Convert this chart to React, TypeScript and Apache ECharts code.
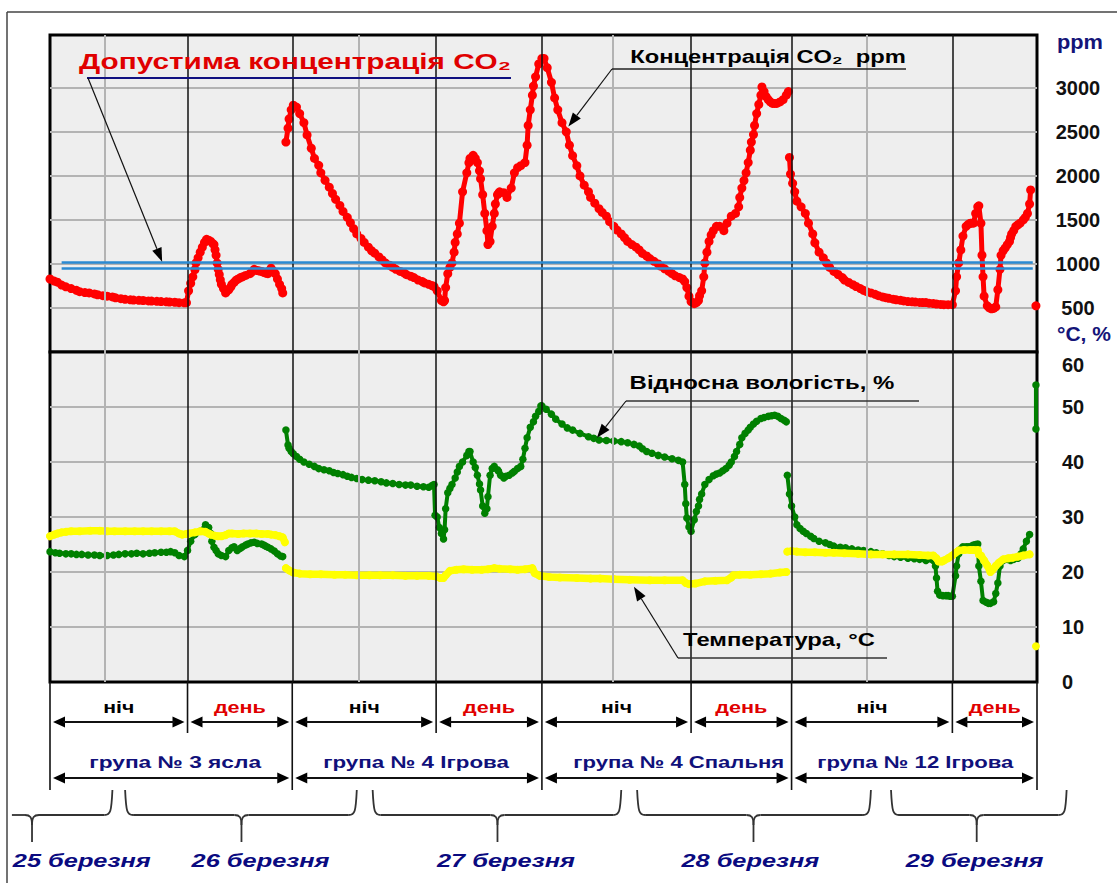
import React, { useEffect, useRef } from "react";
import * as echarts from "echarts";

const FONT = '"Liberation Sans", Arial, Helvetica, sans-serif';

// x values: hours counted from 25 March 00:00
const X_MIN = 18.8;
const X_MAX = 112.1;
const midnights = [24, 48, 72, 96];
const shiftBounds = [31.8, 41.7, 55.3, 65.3, 79.4, 88.9, 104.1];
const groupBounds = [X_MIN, 41.7, 65.3, 88.9, X_MAX];
const shiftLabels = ["ніч", "день", "ніч", "день", "ніч", "день", "ніч", "день"];
const groupLabels = ["група № 3 ясла", "група № 4 Ігрова", "група № 4 Спальня", "група № 12 Ігрова"];
const dayLabels = ["25 березня", "26 березня", "27 березня", "28 березня", "29 березня"];
// [brace start, brace end, brace point, label centre] in hours
const dayBraces = [
  [15.2, 24.7, 17.1, 21.8],
  [25.9, 47.8, 36.9, 38.7],
  [49.3, 72.8, 61.1, 61.9],
  [74.3, 96.4, 85.3, 85.0],
  [98.3, 114.9, 106.4, 106.2],
];
const co2Ticks = [500, 1000, 1500, 2000, 2500, 3000];
const co2Limit = [1024, 951];
const rhTicks = [0, 10, 20, 30, 40, 50, 60];

// CO2, ppm
const co2A = [[18.8,829],[19.2,805],[19.5,793],[19.9,760],[20.3,740],[20.8,720],[21.3,700],[21.6,685],[22.1,675],[22.5,671],[23.0,660],[23.3,650],[23.8,640],[24.2,634],[24.7,625],[25.0,615],[25.5,605],[25.9,598],[26.4,593],[26.7,590],[27.2,587],[27.6,585],[28.1,580],[28.4,578],[28.9,575],[29.3,573],[29.8,570],[30.1,568],[30.6,565],[31.0,560],[31.5,558],[31.7,560],[31.9,695],[32.1,780],[32.3,854],[32.5,935],[32.6,1012],[32.8,1070],[33.0,1134],[33.2,1190],[33.4,1244],[33.6,1280],[33.8,1270],[34.0,1256],[34.2,1230],[34.3,1220],[34.4,1160],[34.5,1098],[34.6,1010],[34.7,939],[34.8,880],[34.9,820],[35.0,768],[35.2,720],[35.4,671],[35.5,690],[35.7,707],[35.9,740],[36.0,768],[36.2,790],[36.4,817],[36.6,830],[36.8,845],[37.0,854],[37.3,870],[37.7,890],[37.9,910],[38.1,939],[38.4,925],[38.6,920],[38.8,915],[39.0,905],[39.2,895],[39.4,890],[39.6,930],[39.7,951],[39.9,920],[40.1,890],[40.3,830],[40.5,768],[40.7,720],[40.8,671]];
const co2B = [[41.1,2384],[41.3,2542],[41.4,2646],[41.6,2750],[41.8,2802],[42.1,2781],[42.4,2708],[42.8,2604],[43.1,2465],[43.5,2314],[43.8,2198],[44.2,2120],[44.4,2035],[44.8,1950],[45.2,1872],[45.5,1800],[45.8,1734],[46.2,1665],[46.5,1596],[46.9,1530],[47.2,1468],[47.5,1400],[47.8,1341],[48.2,1290],[48.5,1244],[48.9,1190],[49.2,1150],[49.5,1122],[49.9,1080],[50.2,1045],[50.5,1012],[50.9,985],[51.2,960],[51.5,939],[51.9,915],[52.3,895],[52.5,878],[52.9,860],[53.2,845],[53.6,817],[54.0,800],[54.2,785],[54.6,768],[54.9,755],[55.1,744],[55.4,695],[55.8,585],[56.0,570],[56.1,585],[56.2,732],[56.4,890],[56.6,960],[56.8,1012],[57.0,1134],[57.1,1244],[57.3,1341],[57.5,1463],[57.8,1819],[58.2,2035],[58.4,2150],[58.5,2198],[58.8,2233],[59.0,2200],[59.2,2151],[59.4,2058],[59.5,1968],[59.7,1787],[59.9,1574],[60.1,1378],[60.2,1220],[60.4,1256],[60.6,1427],[60.8,1574],[60.9,1681],[61.1,1787],[61.2,1800],[61.3,1819],[61.7,1809],[62.0,1755],[62.4,1862],[62.7,2035],[63.0,2093],[63.3,2116],[63.7,2151],[63.9,2349],[64.0,2573],[64.2,2750],[64.4,2917],[64.5,3020],[64.7,3125],[65.0,3271],[65.3,3333],[65.5,3333],[65.8,3229],[66.2,3063],[66.5,2885],[66.8,2750],[67.2,2604],[67.6,2500],[67.9,2349],[68.2,2230],[68.6,2116],[68.9,2000],[69.3,1894],[69.7,1820],[69.9,1755],[70.3,1690],[70.7,1628],[71.0,1585],[71.4,1543],[71.7,1480],[72.1,1427],[72.4,1385],[72.8,1341],[73.1,1300],[73.4,1256],[73.8,1220],[74.2,1190],[74.5,1159],[74.8,1120],[75.2,1090],[75.5,1061],[75.9,1030],[76.3,1000],[76.5,976],[76.9,945],[77.3,915],[77.6,890],[77.9,865],[78.3,845],[78.6,829],[78.8,800],[79.0,732],[79.2,634],[79.4,573],[79.7,549],[79.9,560],[80.1,585],[80.2,640],[80.4,695],[80.6,854],[80.7,1012],[80.9,1134],[81.1,1256],[81.3,1330],[81.5,1378],[81.8,1427],[82.1,1427],[82.5,1378],[82.8,1463],[83.2,1543],[83.6,1574],[83.9,1649],[84.0,1755],[84.2,1862],[84.4,1947],[84.6,2035],[84.8,2151],[85.0,2291],[85.1,2384],[85.3,2469],[85.4,2573],[85.6,2708],[85.8,2812],[86.0,2917],[86.1,3010],[86.3,2958],[86.5,2900],[86.7,2865],[86.9,2840],[87.1,2823],[87.3,2823],[87.5,2823],[87.8,2840],[88.1,2865],[88.4,2917],[88.6,2958]];
const co2C = [[88.7,2209],[88.8,2021],[89.0,1915],[89.2,1819],[89.4,1713],[89.8,1649],[90.2,1574],[90.5,1463],[90.9,1341],[91.1,1240],[91.5,1134],[91.9,1070],[92.2,1012],[92.5,960],[92.9,915],[93.3,880],[93.7,845],[93.9,817],[94.3,790],[94.7,765],[95.0,744],[95.4,720],[95.7,700],[96.0,685],[96.4,671],[96.8,655],[97.1,640],[97.5,625],[97.8,617],[98.1,610],[98.5,600],[98.8,593],[99.2,587],[99.5,580],[99.9,573],[100.3,570],[100.6,567],[101.0,563],[101.3,561],[101.6,561],[101.9,555],[102.3,550],[102.6,545],[103.0,540],[103.3,537],[103.7,537],[104.1,537],[104.4,695],[104.5,854],[104.7,1012],[104.9,1159],[105.1,1317],[105.4,1427],[105.6,1450],[105.8,1463],[105.9,1463],[106.1,1463],[106.3,1574],[106.5,1649],[106.6,1660],[106.8,1463],[106.9,1100],[107.0,854],[107.1,634],[107.4,524],[107.6,500],[107.8,490],[108.0,495],[108.2,512],[108.4,707],[108.6,939],[108.7,1098],[108.9,1150],[109.1,1183],[109.3,1220],[109.5,1256],[109.6,1300],[109.7,1341],[109.9,1380],[110.1,1427],[110.3,1445],[110.5,1463],[110.8,1500],[111.0,1530],[111.2,1574],[111.4,1681],[111.5,1840]];
const co2D = [[112.0,524]];

// relative humidity, %
const rhA = [[18.8,23.7],[19.3,23.5],[19.7,23.4],[20.3,23.3],[20.8,23.3],[21.3,23.2],[21.8,23.2],[22.4,23.1],[23.0,23.1],[23.5,23.0],[24.2,23.0],[24.8,23.1],[25.3,23.2],[25.9,23.3],[26.5,23.3],[27.0,23.4],[27.6,23.3],[28.2,23.4],[28.7,23.5],[29.3,23.6],[29.8,23.6],[30.2,23.7],[30.6,23.5],[31.0,23.0],[31.5,22.8],[31.8,23.9],[32.1,25.6],[32.5,26.8],[33.0,27.4],[33.5,28.6],[33.8,28.1],[34.0,27.0],[34.1,25.6],[34.3,24.5],[34.5,23.9],[34.7,23.3],[35.0,23.0],[35.4,22.8],[35.7,23.9],[36.0,24.4],[36.2,24.6],[36.5,23.9],[36.8,24.3],[37.0,24.6],[37.3,24.9],[37.5,25.1],[37.8,25.3],[38.1,25.4],[38.4,25.2],[38.8,25.1],[39.0,24.9],[39.2,24.7],[39.4,24.5],[39.7,24.2],[40.0,23.8],[40.3,23.3],[40.6,22.9],[40.8,22.8]];
const rhB = [[41.1,45.8],[41.3,43.1],[41.4,42.5],[41.6,41.9],[41.8,41.5],[42.1,41.0],[42.4,40.5],[42.8,40.0],[43.3,39.6],[43.8,39.2],[44.2,38.8],[44.7,38.6],[45.2,38.4],[45.6,38.1],[46.0,37.9],[46.5,37.7],[46.9,37.4],[47.3,37.2],[47.8,37.0],[48.3,36.8],[48.9,36.7],[49.5,36.6],[50.1,36.4],[50.6,36.2],[51.2,36.1],[51.8,35.9],[52.4,35.8],[52.9,35.8],[53.5,35.6],[54.1,35.5],[54.6,35.4],[54.9,35.7],[55.1,35.9],[55.2,30.3],[55.4,30.0],[55.6,28.1],[55.8,27.0],[56.0,26.0],[56.1,27.7],[56.2,31.5],[56.4,34.4],[56.6,35.2],[56.8,35.9],[57.1,37.1],[57.3,38.2],[57.5,39.2],[57.8,40.0],[58.2,41.2],[58.4,41.9],[58.5,41.9],[58.8,40.0],[59.0,39.0],[59.2,37.6],[59.4,36.0],[59.5,34.9],[59.7,32.0],[59.9,30.7],[60.1,31.5],[60.2,33.7],[60.4,37.6],[60.6,38.8],[60.8,39.2],[61.1,38.6],[61.2,38.3],[61.4,37.6],[61.7,37.1],[61.9,37.4],[62.2,37.6],[62.5,38.0],[62.7,38.3],[63.0,38.8],[63.3,39.2],[63.5,40.5],[63.7,42.5],[63.9,44.4],[64.2,46.3],[64.5,47.3],[64.7,48.3],[65.0,49.2],[65.2,50.2],[65.3,50.2],[65.7,49.6],[66.2,48.7],[66.6,47.8],[67.2,46.9],[67.7,46.2],[68.2,45.8],[68.9,45.2],[69.7,44.6],[70.2,44.3],[70.7,44.0],[71.4,43.9],[72.1,43.8],[72.8,43.7],[73.4,43.5],[74.0,43.2],[74.5,42.9],[74.8,42.4],[75.2,41.9],[75.7,41.6],[76.3,41.2],[76.9,40.9],[77.6,40.6],[78.2,40.3],[78.6,40.0],[78.8,35.9],[78.9,32.4],[79.0,29.8],[79.2,28.2],[79.4,27.4],[79.7,29.5],[79.9,31.0],[80.1,32.0],[80.2,33.2],[80.4,34.2],[80.7,35.9],[81.1,36.8],[81.5,37.5],[81.8,37.8],[82.1,38.0],[82.4,38.4],[82.7,38.8],[83.0,39.4],[83.2,40.0],[83.5,41.0],[83.7,41.9],[84.0,43.2],[84.2,44.4],[84.5,45.2],[84.8,45.8],[85.0,46.3],[85.3,46.9],[85.6,47.4],[86.0,47.9],[86.3,48.1],[86.7,48.3],[87.0,48.4],[87.3,48.5],[87.6,48.3],[87.9,47.9],[88.2,47.6],[88.4,47.3]];
const rhC = [[88.5,37.6],[88.7,34.2],[88.9,32.0],[89.2,30.0],[89.4,28.6],[89.7,27.9],[90.0,27.4],[90.3,27.0],[90.7,26.5],[91.0,26.1],[91.5,25.6],[92.1,25.3],[92.5,25.0],[92.9,24.7],[93.5,24.5],[94.0,24.4],[94.6,24.2],[95.2,24.0],[95.7,23.9],[96.4,23.7],[96.9,23.5],[97.5,23.3],[98.1,23.0],[98.6,22.8],[99.2,22.7],[99.9,22.5],[100.5,22.4],[101.0,22.3],[101.6,22.1],[102.3,22.1],[102.5,21.1],[102.6,18.9],[102.7,16.5],[102.9,15.8],[103.2,15.7],[103.5,15.7],[103.7,15.7],[103.9,15.6],[104.1,15.6],[104.4,19.3],[104.5,21.1],[104.7,23.3],[104.9,24.2],[105.1,24.6],[105.4,24.6],[105.6,24.6],[105.9,24.7],[106.1,24.9],[106.3,25.0],[106.5,25.1],[106.6,21.1],[106.8,18.3],[107.0,14.8],[107.3,14.5],[107.5,14.3],[107.7,14.3],[108.0,14.6],[108.2,16.1],[108.4,18.0],[108.6,21.1],[108.9,22.1],[109.3,22.3],[109.6,22.1],[109.9,22.3],[110.3,22.5],[110.6,23.3],[110.8,24.2],[111.1,25.6],[111.4,26.8]];
const rhD = [[112.0,54.0],[112.0,46.0]];

// temperature, °C
const tA = [[18.8,26.5],[19.2,26.8],[19.5,27.0],[19.9,27.2],[20.3,27.3],[20.8,27.4],[21.6,27.4],[22.6,27.5],[23.5,27.5],[24.2,27.4],[24.9,27.4],[25.9,27.4],[26.8,27.4],[27.6,27.4],[28.4,27.4],[29.3,27.4],[30.1,27.4],[30.6,27.4],[31.0,27.0],[31.3,26.8],[31.7,26.9],[31.9,27.0],[32.5,27.2],[33.0,27.4],[33.5,27.3],[33.8,27.0],[34.0,26.8],[34.4,26.6],[34.7,26.5],[35.0,26.5],[35.4,26.7],[35.7,27.0],[36.0,27.0],[36.6,26.9],[37.1,27.0],[37.7,27.0],[38.3,27.0],[38.8,26.9],[39.4,26.9],[39.7,26.8],[40.1,26.7],[40.5,26.5],[40.8,26.3],[41.0,25.4]];
const tB = [[41.1,20.7],[41.4,20.3],[41.8,19.9],[42.4,19.7],[43.4,19.6],[44.4,19.6],[45.7,19.5],[46.7,19.5],[47.8,19.4],[49.0,19.4],[50.0,19.4],[51.2,19.4],[52.4,19.3],[53.5,19.3],[54.6,19.3],[55.3,19.2],[55.7,18.9],[56.0,18.9],[56.2,19.4],[56.6,20.2],[57.2,20.4],[57.9,20.5],[58.7,20.4],[59.6,20.4],[60.2,20.5],[60.8,20.7],[61.3,20.6],[62.3,20.5],[63.0,20.4],[63.7,20.5],[64.4,20.7],[64.6,19.8],[65.1,19.3],[66.0,19.1],[67.0,19.0],[68.6,18.9],[69.9,18.8],[70.8,18.8],[72.1,18.7],[73.6,18.6],[75.5,18.5],[76.9,18.5],[78.6,18.5],[78.9,18.0],[79.2,17.8],[79.8,17.9],[80.7,18.3],[81.7,18.4],[82.8,18.5],[83.2,19.0],[83.4,19.4],[84.0,19.5],[85.0,19.5],[86.0,19.6],[86.9,19.7],[87.8,19.9],[88.4,20.0]];
const tC = [[88.5,23.7],[88.9,23.8],[89.4,23.7],[90.2,23.6],[91.1,23.6],[92.1,23.5],[92.9,23.5],[93.9,23.4],[95.2,23.3],[96.4,23.2],[97.5,23.2],[98.6,23.2],[99.9,23.2],[101.0,23.1],[101.8,23.0],[102.3,23.0],[102.6,22.5],[102.8,21.9],[103.1,21.9],[103.3,22.1],[103.7,22.5],[104.1,23.0],[104.4,23.5],[104.7,23.9],[105.2,24.0],[105.8,24.0],[106.1,24.0],[106.5,24.0],[106.6,23.2],[106.8,23.0],[107.1,22.1],[107.4,21.2],[107.7,20.0],[107.9,20.4],[108.2,21.1],[108.5,21.7],[108.9,22.3],[109.4,22.5],[109.8,22.6],[110.3,22.8],[110.8,23.0],[111.4,23.2]];
const tD = [[112.0,6.5]];

// annotation arrow tips, in data units [hours, value]
const limitTip = [29.4, 1024];
const co2Tip = [67.8, 2560];
const rhTip = [70.5, 44.4];
const tTip = [74.0, 17.3];

const measureCtx = typeof document !== "undefined" ? document.createElement("canvas").getContext("2d") : null;
function textWidth(text: string, size: number, weight: string, style: string) {
  if (!measureCtx) return text.length * size * 0.6;
  measureCtx.font = `${style} ${weight} ${size}px ${FONT}`;
  return measureCtx.measureText(text).width;
}

function fitText(text: string, cx: number, cy: number, width: number, size: number, color: string, style = "normal", weight = "bold") {
  const w = textWidth(text, size, weight, style);
  return {
    type: "text", x: cx, y: cy, scaleX: width / w, z: 100, silent: true,
    style: {
      text, x: 0, y: 0, fill: color, fontSize: size, fontWeight: weight, fontStyle: style, fontFamily: FONT,
      align: "center", verticalAlign: "middle", textAlign: "center", textVerticalAlign: "middle",
    },
  };
}

function lineSeries(data: number[][], axis: number, color: string, size: number, width: number, z: number) {
  return {
    type: "line", xAxisIndex: axis, yAxisIndex: axis, data, z,
    symbol: "circle", symbolSize: size, showSymbol: true, showAllSymbol: true,
    itemStyle: { color }, lineStyle: { color, width, cap: "round", join: "round" },
    silent: true, emphasis: { disabled: true },
  };
}

function buildOption() {
  const gray = "#B3B3B3";
  const none = "rgba(0,0,0,0)";
  const vLines = [
    ...midnights.map((v) => ({ xAxis: v, lineStyle: { color: gray, width: 2, type: "solid" } })),
    ...shiftBounds.map((v) => ({ xAxis: v, lineStyle: { color: "#111", width: 1.5, type: "solid" } })),
  ];
  const limitLines = co2Limit.map((v) => [
    { coord: [19.9, v], lineStyle: { color: "#2B8AD2", width: 2.5, type: "solid" } },
    { coord: [111.7, v] },
  ]);
  const axisLabelBase = { color: "#111", fontSize: 20, fontWeight: "bold", fontFamily: FONT };
  return {
    animation: false,
    backgroundColor: "#ffffff",
    grid: [
      { left: 50, top: 35, width: 987, height: 317, show: true, backgroundColor: "#EEEEEE", borderColor: "#000", borderWidth: 3 },
      { left: 50, top: 352, width: 987, height: 330, show: true, backgroundColor: "#EEEEEE", borderColor: "#000", borderWidth: 3 },
    ],
    xAxis: [0, 1].map((i) => ({
      gridIndex: i, type: "value", min: X_MIN, max: X_MAX,
      axisLine: { show: false }, axisTick: { show: false }, axisLabel: { show: false }, splitLine: { show: false },
    })),
    yAxis: [
      {
        gridIndex: 0, type: "value", position: "right", min: 0, max: 3600, interval: 500,
        axisLine: { show: false }, axisTick: { show: false },
        axisLabel: { ...axisLabelBase, align: "center", margin: 41, formatter: (v: number) => (co2Ticks.includes(v) ? String(v) : "") },
        splitLine: { show: true, lineStyle: { color: [none, gray, gray, gray, gray, gray, gray, none], width: 2 } },
      },
      {
        gridIndex: 1, type: "value", position: "right", min: 0, max: 60, interval: 10,
        axisLine: { show: false }, axisTick: { show: false },
        axisLabel: {
          ...axisLabelBase, align: "left", margin: 25, lineHeight: 26,
          formatter: (v: number) => (rhTicks.includes(v) ? (v === 60 ? "\n60" : String(v)) : ""),
        },
        splitLine: { show: true, lineStyle: { color: [none, gray, gray, gray, gray, gray, none], width: 2 } },
      },
    ],
    series: [
      {
        type: "line", xAxisIndex: 0, yAxisIndex: 0, data: [], z: 1, silent: true,
        markLine: { silent: true, symbol: ["none", "none"], label: { show: false }, animation: false, data: [...vLines, ...limitLines] },
      },
      {
        type: "line", xAxisIndex: 1, yAxisIndex: 1, data: [], z: 1, silent: true,
        markLine: { silent: true, symbol: ["none", "none"], label: { show: false }, animation: false, data: vLines },
      },
      ...[co2A, co2B, co2C, co2D].map((d) => lineSeries(d, 0, "#FF0000", 9, 5, 3)),
      ...[rhA, rhB, rhC, rhD].map((d) => lineSeries(d, 1, "#008000", 7.5, 4, 3)),
      ...[tA, tB, tC, tD].map((d) => lineSeries(d, 1, "#FFFF00", 8, 7.5, 4)),
    ],
  };
}

function buildGraphics(chart: any) {
  const px = (h: number) => chart.convertToPixel({ xAxisIndex: 0 }, h) as number;
  const pCo2 = (p: number[]) => chart.convertToPixel({ xAxisIndex: 0, yAxisIndex: 0 }, p) as number[];
  const pRh = (p: number[]) => chart.convertToPixel({ xAxisIndex: 1, yAxisIndex: 1 }, p) as number[];
  const els: any[] = [];
  const line = (x1: number, y1: number, x2: number, y2: number, stroke = "#000", w = 1.5) =>
    els.push({ type: "line", z: 100, silent: true, shape: { x1, y1, x2, y2 }, style: { stroke, lineWidth: w } });
  const head = (tx: number, ty: number, fx: number, fy: number, len: number, hw: number) => {
    const d = Math.hypot(tx - fx, ty - fy);
    const ux = (tx - fx) / d, uy = (ty - fy) / d;
    const bx = tx - ux * len, by = ty - uy * len;
    els.push({
      type: "polygon", z: 100, silent: true,
      shape: { points: [[tx, ty], [bx - uy * hw, by + ux * hw], [bx + uy * hw, by - ux * hw]] },
      style: { fill: "#000" },
    });
    return [bx, by];
  };
  const arrow = (x1: number, y1: number, x2: number, y2: number, w = 1.2) => {
    const [bx, by] = head(x2, y2, x1, y1, 14, 5);
    line(x1, y1, bx, by, "#111", w);
  };
  const dblArrow = (x1: number, x2: number, y: number) => {
    head(x1, y, x2, y, 12, 5.5);
    head(x2, y, x1, y, 12, 5.5);
    line(x1 + 10, y, x2 - 10, y, "#111", 1.8);
  };

  // outer frame
  line(7, 12, 1117, 12, "#444", 1.5);
  line(7, 12, 7, 883, "#444", 1.5);

  // upper annotations
  const [lx, ly] = pCo2(limitTip);
  els.push(fitText("Допустима концентрація CO₂", 295, 61, 432, 22, "#E00000"));
  line(87, 78, 511, 78, "#101080", 2.2);
  arrow(88, 78, lx, ly);

  const [cx, cy] = pCo2(co2Tip);
  els.push(fitText("Концентрація CO₂  ppm", 768, 57, 276, 18, "#000"));
  line(612, 69, 906, 69, "#222", 1.3);
  arrow(612, 69, cx, cy);

  const [hx, hy] = pRh(rhTip);
  els.push(fitText("Відносна вологість, %", 762, 383, 265, 18, "#000"));
  line(626, 401, 919, 401, "#333", 1.3);
  arrow(626, 401, hx, hy);

  const [tx, ty] = pRh(tTip);
  els.push(fitText("Температура, °C", 779, 640, 192, 18, "#000"));
  line(678, 658, 887, 658, "#333", 1.3);
  arrow(678, 658, tx, ty);

  // axis titles
  els.push(fitText("ppm", 1080, 42, 46, 20, "#141478"));
  els.push({
    type: "text", x: 1057, y: 333, z: 100, silent: true,
    style: { text: "°C, %", x: 0, y: 0, fill: "#141478", fontSize: 21, fontWeight: "bold", fontFamily: FONT,
      align: "left", verticalAlign: "middle", textAlign: "left", textVerticalAlign: "middle" },
  });

  // bottom: shift and group rows
  const bottom = pRh([X_MIN, 0])[1];
  const shiftEdges = [X_MIN, ...shiftBounds, X_MAX];
  groupBounds.forEach((g) => line(px(g), bottom, px(g), 790, "#111", 1.6));
  shiftBounds.filter((b) => !groupBounds.includes(b)).forEach((b) => line(px(b), bottom, px(b), 733, "#111", 1.6));
  shiftLabels.forEach((lab, i) => {
    const a = px(shiftEdges[i]) + 3, b = px(shiftEdges[i + 1]) - 3;
    dblArrow(a, b, 722);
    els.push(fitText(lab, (a + b) / 2, 707, lab === "ніч" ? 31 : 52, 17, lab === "ніч" ? "#000" : "#E00000"));
  });
  const groupWidths = [172, 186, 211, 196];
  const groupShift = [4, -1, 12, 1];
  groupLabels.forEach((lab, i) => {
    const a = px(groupBounds[i]) + 3, b = px(groupBounds[i + 1]) - 3;
    dblArrow(a, b, 778);
    els.push(fitText(lab, (a + b) / 2 + groupShift[i], 762, groupWidths[i], 17, "#10107A"));
  });

  // day braces
  dayBraces.forEach(([from, to, tip, lab], i) => {
    const L = px(from), R = px(to), T = px(tip);
    const yTop = 790, yH = 815, yB = 842;
    const st = { stroke: "#333", lineWidth: 1.8, fill: null };
    if (i > 0) {
      els.push({ type: "bezierCurve", z: 100, silent: true, shape: { x1: L, y1: yTop, cpx1: L + 1, cpy1: yH - 3, cpx2: L + 2, cpy2: yH, x2: L + 8, y2: yH }, style: st });
      line(L + 8, yH, T - 7, yH, "#333", 1.8);
    } else {
      line(L, yH, T - 7, yH, "#333", 1.8);
    }
    els.push({ type: "bezierCurve", z: 100, silent: true, shape: { x1: T - 7, y1: yH, cpx1: T - 2, cpy1: yH, cpx2: T, cpy2: yH + 2, x2: T, y2: yH + 10 }, style: st });
    els.push({ type: "bezierCurve", z: 100, silent: true, shape: { x1: T + 7, y1: yH, cpx1: T + 2, cpy1: yH, cpx2: T, cpy2: yH + 2, x2: T, y2: yH + 10 }, style: st });
    line(T, yH + 10, T, yB, "#333", 1.8);
    line(T + 7, yH, R - 8, yH, "#333", 1.8);
    els.push({ type: "bezierCurve", z: 100, silent: true, shape: { x1: R, y1: yTop, cpx1: R - 1, cpy1: yH - 3, cpx2: R - 2, cpy2: yH, x2: R - 8, y2: yH }, style: st });
    els.push(fitText(dayLabels[i], px(lab), 861, 138, 19, "#0A0A80", "italic"));
  });
  return els;
}

export default function App() {
  const ref = useRef<HTMLDivElement>(null);
  useEffect(() => {
    if (!ref.current) return;
    const chart = echarts.init(ref.current, null, { renderer: "svg" });
    chart.setOption(buildOption() as any);
    chart.setOption({ graphic: { elements: buildGraphics(chart) } } as any);
    return () => chart.dispose();
  }, []);
  return (
    <div
      ref={ref}
      style={{ position: "absolute", left: 0, top: 0, width: 1117, height: 883, background: "#fff" }}
    />
  );
}
